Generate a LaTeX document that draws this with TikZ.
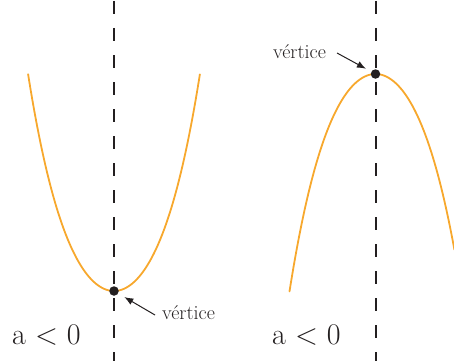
\documentclass[tikz,border=0pt]{standalone}
\usepackage{fontspec}
\setmainfont{Latin Modern Roman}
\usetikzlibrary{arrows.meta}
\definecolor{curveor}{RGB}{247,168,45}
\definecolor{inkdark}{RGB}{35,31,32}
\tikzset{
  curve/.style={draw=curveor, line width=1.8pt, line cap=round},
  axisline/.style={draw=inkdark, line width=2pt, dash pattern=on 13pt off 14pt},
  vdot/.style={circle, fill=inkdark, inner sep=0pt, minimum size=9.5pt},
  bigtext/.style={font=\fontsize{30}{36}\selectfont, anchor=base, inner sep=0pt, text=inkdark},
  smalltext/.style={font=\fontsize{20}{24}\selectfont, anchor=base, inner sep=0pt, text=inkdark},
  ptr/.style={draw=inkdark, line width=1pt, -{Latex[length=9pt,width=7pt]}}
}
\begin{document}
\begin{tikzpicture}[x=1pt,y=-1pt]
\useasboundingbox (0,0) rectangle (454,361);
% axes of symmetry
\draw[axisline] (114,1) -- (114,361);
\draw[axisline] (375.5,1) -- (375.5,361);
% parabolas
\begin{scope}
\clip (0,0) rectangle (454,361);
\draw[curve] plot[domain=-0.859:0.859, samples=80, smooth] ({114+100*\x}, {291-220*\x*\x-100*\x*\x*\x*\x});
\draw[curve] plot[domain=-0.86:0.79, samples=80, smooth] ({375.5+100*\x}, {74+220*\x*\x+100*\x*\x*\x*\x});
\end{scope}
% vertices
\node[vdot] (dotA) at (114,291) {};
\node[vdot] (dotB) at (375.5,74) {};
% labels
\node[bigtext] (condA) at (46.5,344) {a < 0};
\node[bigtext] (condB) at (306.5,344) {a < 0};
\node[smalltext] (labA) at (188.5,319) {vértice};
\node[smalltext] (labB) at (299.5,58) {vértice};
% pointers
\coordinate (tailA) at (155,315);
\coordinate (tailB) at (337,53);
\draw[ptr, shorten >=7pt] (tailA) -- (dotA);
\draw[ptr, shorten >=6pt] (tailB) -- (dotB);
\end{tikzpicture}
\end{document}
